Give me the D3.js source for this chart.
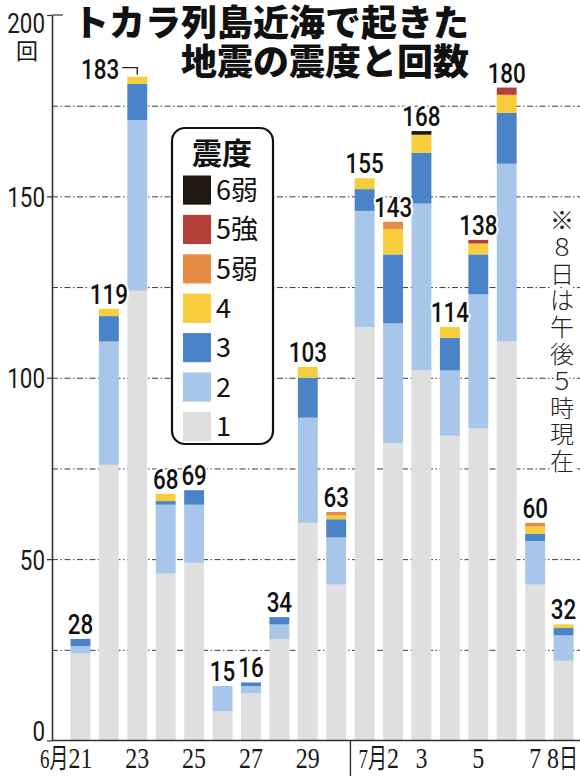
<!DOCTYPE html>
<html>
<head>
<meta charset="utf-8">
<script src="https://cdn.jsdelivr.net/npm/d3@7"></script>
<style>
  body { margin: 0; background: #fff; }
  svg { display: block; }
</style>
</head>
<body>
<div id="chart"></div>
<script>
// days on the x axis
const dates = ["6/21", "6/22", "6/23", "6/24", "6/25", "6/26", "6/27", "6/28", "6/29", "6/30",
               "7/1", "7/2", "7/3", "7/4", "7/5", "7/6", "7/7", "7/8"];

// quake counts per seismic intensity (shindo), one value per day
const shindo1  = [24, 76, 124, 46, 49, 8, 13, 28, 60, 43, 114, 82, 102, 84, 86, 110, 43, 22];
const shindo2  = [2, 34, 47, 19, 16, 7, 2, 4, 29, 13, 32, 33, 46, 18, 37, 49, 12, 7];
const shindo3  = [2, 7, 10, 1, 4, 0, 1, 2, 11, 5, 6, 19, 14, 9, 11, 14, 2, 2];
const shindo4  = [0, 2, 2, 2, 0, 0, 0, 0, 3, 1, 3, 7, 5, 3, 3, 5, 2, 1];
const shindo5L = [0, 0, 0, 0, 0, 0, 0, 0, 0, 1, 0, 2, 0, 0, 0, 0, 1, 0];
const shindo5U = [0, 0, 0, 0, 0, 0, 0, 0, 0, 0, 0, 0, 0, 0, 1, 2, 0, 0];
const shindo6L = [0, 0, 0, 0, 0, 0, 0, 0, 0, 0, 0, 0, 1, 0, 0, 0, 0, 0];

const levelNames = ["1", "2", "3", "4", "5弱", "5強", "6弱"];
const levelColors = ["#dfdfdf", "#a7c6ea", "#4a83c7", "#f8cd3d", "#e68c47", "#b5403a", "#1f1712"];

// axis tick labels
const yLabelValues = [0, 50, 100, 150, 200];
const gridValues = [25, 50, 75, 100, 125, 150, 175];
const xTickDates = ["6/21", "6/23", "6/25", "6/27", "6/29", "7/2", "7/3", "7/5", "7/7", "7/8"];
const xTickTexts = ["6月21", "23", "25", "27", "29", "7月2", "3", "5", "7", "8日"];

const titleLines = ["トカラ列島近海で起きた", "地震の震度と回数"];
const legendTitle = "震度";
const yUnit = "回";
const noteText = "※８日は午後５時現在";

const width = 580, height = 776;
const axisX = 52;
const sansNum = "Roboto, 'Liberation Sans', Arial, sans-serif";
const serifNum = "'Liberation Serif', 'Noto Sans CJK JP', serif";
const jp = "'Noto Sans CJK JP', sans-serif";
const squeeze = 0.8;
const kanjiSqueeze = 0.88;

// build rows for the stack
const seriesArrays = [shindo1, shindo2, shindo3, shindo4, shindo5L, shindo5U, shindo6L];
const rows = dates.map((d, i) => {
    const row = {date: d};
    levelNames.forEach((k, j) => row[k] = seriesArrays[j][i]);
    row.total = d3.sum(seriesArrays, s => s[i]);
    return row;
});

const stack = d3.stack().keys(levelNames)(rows);
const color = d3.scaleOrdinal().domain(levelNames).range(levelColors);

const x = d3.scaleBand()
    .domain(dates)
    .range([70.5, 573.5])
    .paddingInner(0.3)
    .paddingOuter(0);

const y = d3.scaleLinear()
    .domain([0, 200])
    .range([740.5, 15]);

const svg = d3.select("#chart").append("svg")
    .attr("width", width)
    .attr("height", height)
    .attr("viewBox", `0 0 ${width} ${height}`);

svg.append("rect").attr("width", width).attr("height", height).attr("fill", "#fff");

// dash-dot gridlines
const grid = svg.append("g")
    .attr("transform", `translate(${axisX},0)`)
    .call(d3.axisLeft(y).tickValues(gridValues).tickSize(-(width - axisX)).tickFormat(""));
grid.select(".domain").remove();
grid.selectAll("line")
    .attr("stroke", "#3a3a3a")
    .attr("stroke-width", 1)
    .attr("stroke-dasharray", "6,2.5,1.5,2.5");

// bars
svg.append("g")
    .selectAll("g")
    .data(stack)
    .join("g")
    .attr("fill", d => color(d.key))
    .selectAll("rect")
    .data(d => d.filter(p => p[1] > p[0]))
    .join("rect")
    .attr("x", d => x(d.data.date))
    .attr("y", d => y(d[1]))
    .attr("width", x.bandwidth())
    .attr("height", d => y(d[0]) - y(d[1]));

// y axis
const yAxis = svg.append("g")
    .attr("transform", `translate(${axisX},0)`)
    .call(d3.axisLeft(y).tickValues(yLabelValues).tickSize(5).tickSizeOuter(0).tickPadding(2));
yAxis.select(".domain").attr("stroke", "#333").attr("stroke-width", 1.6);
yAxis.selectAll(".tick line").attr("stroke", "#333").attr("stroke-width", 1.2);
yAxis.selectAll(".tick text")
    .attr("font-family", sansNum)
    .attr("font-size", 28)
    .attr("fill", "#1a1a1a")
    .attr("dy", d => d === 200 ? "0.62em" : d === 0 ? "0" : "0.36em")
    .attr("transform", `scale(${squeeze},1)`)
    .attr("x", -7 / squeeze);

// the top tick also reaches right
svg.append("line")
    .attr("x1", axisX).attr("x2", axisX + 11)
    .attr("y1", y(200)).attr("y2", y(200))
    .attr("stroke", "#333").attr("stroke-width", 1.2);

svg.append("text")
    .attr("x", 27).attr("y", 59)
    .attr("text-anchor", "middle")
    .attr("font-family", jp)
    .attr("font-size", 22)
    .attr("fill", "#1a1a1a")
    .text(yUnit);

// baseline and month separator
svg.append("line")
    .attr("x1", axisX).attr("x2", width)
    .attr("y1", y(0)).attr("y2", y(0))
    .attr("stroke", "#333").attr("stroke-width", 1.6);

const sepX = (x("6/30") + x.bandwidth() + x("7/1")) / 2;
svg.append("line")
    .attr("x1", sepX).attr("x2", sepX)
    .attr("y1", y(0)).attr("y2", height)
    .attr("stroke", "#333").attr("stroke-width", 1.4);

// x labels: the day number sits under its bar, month / day marks hang beside it
xTickDates.forEach((d, i) => {
    const cx = x(d) + x.bandwidth() / 2;
    const m = xTickTexts[i].match(/^(\d+月)?(\d+)(日)?$/);
    const g = svg.append("g")
        .attr("font-family", serifNum)
        .attr("font-size", 30)
        .attr("fill", "#1a1a1a");
    const num = g.append("text").attr("text-anchor", "middle").text(m[2]);
    const w = num.node().getComputedTextLength();
    let right = w / 2;
    if (m[1]) {
        g.append("text")
            .attr("transform", `translate(${-w / 2},0) scale(${kanjiSqueeze},1)`)
            .attr("text-anchor", "end")
            .attr("font-size", 27)
            .text(m[1]);
    }
    if (m[3]) {
        const suf = g.append("text")
            .attr("transform", `translate(${w / 2},0) scale(${kanjiSqueeze},1)`)
            .attr("text-anchor", "start")
            .attr("font-size", 27)
            .text(m[3]);
        right += suf.node().getComputedTextLength() * kanjiSqueeze;
    }
    const gx = Math.min(cx, width - 2 - right * squeeze);
    g.attr("transform", `translate(${gx},768) scale(${squeeze},1)`);
});

// total labels
const labels = svg.append("g")
    .attr("font-family", sansNum)
    .attr("font-weight", 500)
    .attr("font-size", 28)
    .attr("fill", "#111")
    .attr("stroke", "#fff")
    .attr("stroke-width", 5)
    .attr("stroke-linejoin", "round")
    .attr("paint-order", "stroke");

rows.forEach(r => {
    const cx = x(r.date) + x.bandwidth() / 2;
    const top = y(r.total);
    if (r.date === "6/23") {
        // no room above the tallest early bar: label sits to the left with a hook
        labels.append("text")
            .attr("transform", `translate(${cx - 18},${top + 2}) scale(${squeeze},1)`)
            .attr("text-anchor", "end")
            .text(r.total);
        svg.append("path")
            .attr("d", `M${cx - 15},${top - 9}H${cx}V${top - 2}`)
            .attr("fill", "none")
            .attr("stroke", "#222")
            .attr("stroke-width", 1.3);
    } else {
        labels.append("text")
            .attr("transform", `translate(${cx},${top - 5}) scale(${squeeze},1)`)
            .attr("text-anchor", "middle")
            .text(r.total);
    }
});

// title
const title = svg.append("text")
    .attr("font-family", jp)
    .attr("font-weight", 900)
    .attr("font-size", 36)
    .attr("fill", "#111")
    .attr("text-anchor", "end");
titleLines.forEach((t, i) => {
    title.append("tspan").attr("x", 469).attr("y", 36 + i * 39).text(t);
});

// legend
const legend = svg.append("g");
legend.append("rect")
    .attr("x", 172).attr("y", 128)
    .attr("width", 101).attr("height", 316)
    .attr("rx", 13)
    .attr("fill", "#fff")
    .attr("stroke", "#111")
    .attr("stroke-width", 2.2);
legend.append("text")
    .attr("x", 222).attr("y", 164)
    .attr("text-anchor", "middle")
    .attr("font-family", jp)
    .attr("font-weight", 700)
    .attr("font-size", 30)
    .attr("fill", "#111")
    .text(legendTitle);

const legendItems = levelNames.slice().reverse();
const legendRow = d3.scaleBand().domain(legendItems).range([175.5, 441]).paddingInner(0.26);
legendItems.forEach(k => {
    legend.append("rect")
        .attr("x", 183).attr("y", legendRow(k))
        .attr("width", 28).attr("height", legendRow.bandwidth())
        .attr("fill", color(k));
    legend.append("text")
        .attr("x", 216).attr("y", legendRow(k) + legendRow.bandwidth() / 2)
        .attr("dy", "0.36em")
        .attr("font-family", jp)
        .attr("font-size", 27)
        .attr("fill", "#111")
        .text(k);
});

// vertical note on the right
const note = svg.append("text")
    .attr("font-family", jp)
    .attr("font-weight", 300)
    .attr("font-size", 24)
    .attr("fill", "#222")
    .attr("stroke", "#fff")
    .attr("stroke-width", 6)
    .attr("paint-order", "stroke")
    .attr("text-anchor", "middle");
Array.from(noteText).forEach((ch, i) => {
    note.append("tspan")
        .attr("x", 562)
        .attr("y", 229 + i * 26.8)
        .text(ch);
});
</script>
</body>
</html>
